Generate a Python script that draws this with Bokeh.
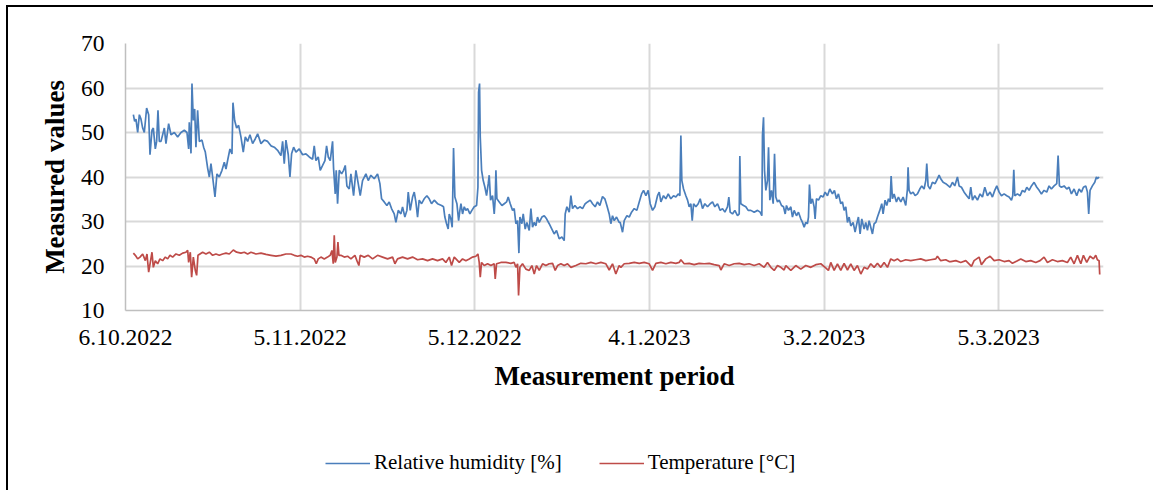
from datetime import date
from bokeh.plotting import figure
from bokeh.layouts import column
from bokeh.models import FixedTicker, Legend, LegendItem, Range1d
from bokeh.embed import file_html
from bokeh.resources import INLINE

# ---------------- data ----------------
start_label = "6.10.2022"
end_label = "23.3.2023"
tick_labels = ["6.10.2022", "5.11.2022", "5.12.2022", "4.1.2023", "3.2.2023", "5.3.2023"]
y_ticks = [10, 20, 30, 40, 50, 60, 70]

# time of reading, in days after 6.10.2022
hum_day = [
    1.35, 1.57, 1.8, 2.09, 2.38, 2.66, 2.95, 3.23, 3.63, 3.98,
    4.21, 4.55, 4.78, 5.12, 5.35, 5.58, 5.81, 6.1, 6.67, 6.95,
    7.41, 7.81, 8.39, 8.96, 9.53, 10.1, 10.56, 10.85, 10.96, 11.25,
    11.42, 11.65, 11.88, 12.1, 12.39, 12.68, 13.14, 13.42, 13.71, 14.11,
    14.4, 14.68, 14.97, 15.37, 15.71, 16.11, 16.57, 16.97, 17.26, 17.54,
    17.94, 18.29, 18.46, 18.75, 19.09, 19.43, 19.83, 20.23, 20.58, 20.98,
    21.38, 21.84, 22.3, 22.7, 23.27, 23.84, 24.41, 24.99, 25.56, 26.13,
    26.7,
    26.99, 27.27, 27.56, 27.96, 28.25, 28.53, 28.88, 29.28, 29.85, 30.42,
    30.99, 31.57, 32.14, 32.42, 32.71, 33.11, 33.45, 33.86, 34.26, 34.54,
    34.83, 35.17, 35.57, 35.74, 36.03, 36.2, 36.43, 36.72, 37.12, 37.46,
    37.75, 38.03, 38.43, 38.72, 39.18, 39.58, 39.98, 40.32, 40.72, 41.3,
    41.7, 42.15, 42.73, 43.3, 43.7, 43.99, 44.44, 44.9, 45.3, 45.7,
    46.16, 46.45, 46.85, 47.31, 47.59, 47.99, 48.34, 48.57, 48.91, 49.31,
    49.6, 49.88, 50.17, 50.45, 50.86, 51.31, 51.77, 52.17, 52.57, 53.03,
    53.6, 54.29, 54.63, 54.86, 55.15, 55.43, 55.61, 55.89, 56.12, 56.35,
    56.58,
    56.93, 57.22, 57.44, 57.62, 57.9, 58.19, 58.47, 58.76, 59.16, 59.5,
    59.9, 60.31, 60.54, 60.65, 60.82, 60.94, 61.17, 61.45, 61.74, 62.02,
    62.31, 62.48, 62.71, 63.05, 63.34, 63.51, 63.63, 63.8, 64.2, 64.66,
    65.06, 65.46, 65.74, 66.09, 66.49, 66.77, 67.06, 67.35, 67.58, 67.75,
    68.09, 68.32, 68.66, 68.95, 69.35, 69.64, 69.92, 70.21, 70.49, 70.78,
    71.07, 71.53, 71.93, 72.33, 72.78, 73.24, 73.64, 74.04, 74.5, 74.96,
    75.36, 75.53, 75.82, 76.22, 76.51, 76.79, 77.19, 77.65, 78.05, 78.51,
    78.97, 79.37, 79.83, 80.23, 80.68, 81.08, 81.48, 81.94, 82.34, 82.69,
    83.09, 83.37, 83.66, 83.95, 84.35, 84.8,
    84.98, 85.38, 85.67, 86.13, 86.53, 86.93, 87.39, 87.84, 88.25, 88.65,
    88.99, 89.39, 89.79, 90.13, 90.54, 90.94, 91.39, 91.68, 91.97, 92.42,
    92.82, 93.23, 93.68, 94.14, 94.54, 94.94, 95.23, 95.4, 95.57, 95.86,
    96.26, 96.55, 96.83, 97.12, 97.35, 97.58, 97.98, 98.38, 98.72, 99.12,
    99.52, 99.98, 100.44, 100.84, 101.24, 101.7, 102.15, 102.56, 102.96, 103.41,
    103.64, 103.87, 104.27, 104.67, 105.13, 105.42, 105.53, 105.7, 106.16, 106.56,
    106.96, 107.42, 107.99, 108.57, 109.02, 109.31, 109.42, 109.6, 109.77, 110.0,
    110.28, 110.46, 110.68, 110.97, 111.26, 111.49, 111.71, 112.0, 112.29, 112.69,
    113.03, 113.32,
    113.54, 113.88, 114.29, 114.57, 114.86, 115.26, 115.6, 116.0, 116.29, 116.58,
    116.86, 117.15, 117.32, 117.49, 117.72, 118.0, 118.29, 118.46, 118.69, 119.04,
    119.44, 119.84, 120.18, 120.58, 120.98, 121.44, 121.78, 122.13, 122.47, 122.87,
    123.16, 123.44, 123.73, 124.02, 124.3, 124.59, 124.99, 125.33, 125.62, 125.9,
    126.19, 126.48, 126.88, 127.16, 127.45, 127.74, 128.02, 128.31, 128.6, 128.88,
    129.17, 129.57, 129.91, 130.14, 130.48, 130.77, 131.06, 131.34, 131.52, 131.74,
    132.03, 132.43, 132.77, 133.18, 133.58, 134.03, 134.32, 134.43, 134.6, 134.89,
    135.29, 135.64, 136.04, 136.44, 136.78, 137.18, 137.47, 137.64, 137.87, 138.21,
    138.61, 139.07, 139.47, 139.76, 140.04, 140.45, 140.9, 141.36, 141.65,
    142.05, 142.45, 142.91, 143.2, 143.6, 144.06, 144.51, 144.92, 145.2, 145.49,
    145.89, 146.35, 146.8, 147.21, 147.61, 148.06, 148.52, 148.92, 149.32, 149.67,
    150.07, 150.47, 150.93, 151.38, 151.78, 152.19, 152.41, 152.59, 152.76, 153.22,
    153.67, 154.07, 154.47, 154.82, 155.22, 155.62, 156.08, 156.54, 156.94, 157.34,
    157.79, 158.25, 158.65, 159.05, 159.51, 159.97, 160.2, 160.43, 160.77, 161.23,
    161.69, 162.09, 162.49, 162.95, 163.4, 163.8, 164.21, 164.55, 164.95, 165.24,
    165.46, 165.69, 166.09, 166.5, 166.78, 166.95, 167.24,
]
hum_val = [
    54, 52.5, 53, 50, 54, 53, 51, 50, 55.5, 54,
    45, 50.5, 51, 46.3, 48, 55, 48, 48, 51, 47.5,
    52, 49.5, 50, 49, 50, 50.5, 50, 46.3, 52.3, 45.3,
    61, 52.7, 55.3, 46.7, 55, 48, 48.3, 46.7, 45.6, 42,
    40, 43, 40, 35.5, 40.7, 40, 41.5, 43.3, 41.8, 43.7,
    46.3, 45.2, 56.7, 52.7, 51, 51.6, 49, 45.6, 49, 48,
    49.5, 47.5, 48.6, 49.7, 47.5, 48.3, 48, 47, 46.7, 46,
    44.8,
    48, 43, 48.3, 45, 40, 45.2, 46.7, 45.6, 46.3, 45,
    45.2, 44.5, 44, 47, 43.7, 44.5, 41.5, 42.6, 43.7, 47,
    44.5, 43.7, 48, 42, 36.2, 41.5, 34, 41.5, 40.7, 41.5,
    42.6, 38, 37.3, 40.7, 35.8, 41.5, 38.5, 35.8, 39.2, 40.7,
    39.2, 40.4, 39.6, 40.7, 38.5, 35.1, 34.4, 33.6, 34.4, 32.9,
    31.7, 29.8, 32.5, 31.7, 33.3, 31, 32.5, 36.6, 32.5, 35.5,
    36.6, 34.4, 31, 34.8, 34, 35.1, 35.8, 35.1, 34, 34.8,
    34, 33.6, 33.3, 31, 29.5, 28.3, 31.7, 30.6, 28.7, 46.5,
    35.5,
    34, 30.2, 32.5, 34, 31.7, 33.3, 32.5, 32.9, 31.7, 32.5,
    33.3, 33.6, 37.7, 59, 61, 49, 41.5, 39.2, 37.7, 35.8,
    38.5, 40.4, 34.8, 35.8, 31.7, 35.1, 41.5, 35.1, 34.4, 33.6,
    34, 34.4, 35.5, 34, 32.5, 32.9, 29.5, 30.2, 22.9, 31,
    29.5, 31.7, 28.3, 29.8, 28, 32.9, 28.7, 29.8, 29, 31,
    29.8, 31, 31.3, 30.6, 29.5, 28.3, 27.2, 28, 26.1, 26.5,
    25.7, 31.7, 33.3, 32.1, 35.8, 32.9, 33.6, 32.9, 33.3, 32.9,
    34, 34.4, 34.8, 34, 33.3, 34.4, 33.6, 35.6, 35.1, 33.6,
    31.7, 29.5, 31.3, 30.2, 31, 29.8,
    29.8, 27.6, 30.2, 31.3, 31, 32.1, 32.9, 32.5, 34.4, 36.2,
    37, 35.8, 37, 34, 32.5, 33.3, 35.8, 36.6, 34.4, 35.8,
    35.1, 36.2, 35.1, 35.8, 35.5, 36.2, 35.8, 49.3, 39.2, 37.3,
    35.8, 34.8, 33.3, 34, 30.2, 34, 33.3, 34, 35.1, 32.9,
    34, 33.3, 34, 34.4, 33.3, 34, 32.5, 32.9, 32.1, 33.3,
    35.5, 32.1, 31.7, 32.5, 31.3, 31.7, 44.7, 34, 33.6, 33.3,
    32.5, 32.5, 32.1, 32.5, 32.1, 31.3, 49.3, 53.4, 41.5, 37,
    39.2, 46.7, 34.8, 37, 34, 45.2, 35.5, 34.4, 34.8, 33.6,
    33.3, 31.7,
    33.6, 32.5, 33.3, 31, 32.5, 31.3, 32.1, 30.6, 29.8, 28.7,
    29.8, 29.5, 31, 38.3, 34, 35.1, 33.3, 30.6, 35.1, 34.8,
    35.8, 35.5, 36.6, 35.8, 37.3, 36.2, 37, 35.1, 36.2, 34,
    34.4, 32.5, 33.3, 29.8, 31, 29, 29.8, 27.6, 29.5, 31,
    27.2, 30.6, 28.3, 29.8, 28, 30.2, 28.7, 27.2, 29.5, 29.8,
    31, 32.5, 34, 31.7, 34.8, 33.6, 35.1, 34.4, 40.2, 35.1,
    36.2, 34.4, 35.5, 34.4, 35.5, 33.6, 37.3, 42.2, 37, 36.2,
    36.6, 35.8, 36.2, 37.3, 38, 37.3, 39.2, 43, 38, 37.3,
    38.8, 38.5, 39.6, 40.4, 39.6, 38.8, 38.5, 38, 37.7,
    38.8, 38, 40, 38, 37.7, 36.6, 35.8, 35.1, 37.7, 34.8,
    35.8, 34.8, 36.2, 35.5, 37.7, 35.8, 36.6, 35.5, 37, 38,
    36.6, 35.8, 36.2, 35.8, 35.5, 34.8, 35.8, 41.6, 35.8, 36.2,
    35.8, 37, 36.6, 37.7, 37, 38, 38.8, 37.7, 37, 36.2,
    37, 36.6, 38, 37.3, 38, 38.5, 44.8, 38, 37.7, 38,
    37.3, 37.7, 36.2, 37.3, 35.8, 37.3, 36.6, 37.7, 38, 36.6,
    31.7, 37, 38, 38.8, 40, 39.6, 40,
]

temp_day = [
    1.35, 1.69, 2.09, 2.49, 2.95, 3.41, 3.69, 3.98, 4.26, 4.55,
    4.78, 5.12, 5.52, 5.92, 6.38, 6.84, 7.24, 7.64, 8.1, 8.67,
    9.24, 9.82, 10.39, 10.68, 10.85, 11.13, 11.36, 11.65, 11.99, 12.22,
    12.45, 12.79, 13.25, 13.82, 14.4, 14.97, 15.54, 16.11, 16.69, 17.26,
    17.83, 18.52, 19.09, 19.83, 20.41, 20.98, 21.55, 22.41, 23.27, 24.13,
    24.99, 25.85, 26.7, 27.56,
    28.42, 28.99, 29.56, 30.13, 30.71, 31.28, 31.85, 32.42, 32.77, 33.11,
    33.57, 34.14, 34.71, 35.17, 35.46, 35.69, 35.86, 36.03, 36.32, 36.49,
    36.66, 37.0, 37.58, 38.15, 38.72, 39.41, 39.75, 40.09, 40.32, 41.01,
    41.7, 42.44, 43.3, 44.16, 45.02, 45.88, 46.28, 46.73, 47.59, 48.45,
    49.31, 50.17, 51.03, 51.89, 52.74, 53.6, 54.46, 55.03, 55.61, 56.01,
    56.47,
    56.76, 57.33, 57.9, 58.47, 59.05, 59.62, 60.19, 60.54, 60.76, 60.94,
    61.16, 61.62, 62.2, 62.77, 63.34, 63.51, 63.74, 64.48, 65.34, 66.2,
    66.77, 67.06, 67.35, 67.52, 67.75, 68.2, 68.78, 69.35, 69.81, 70.21,
    70.61, 71.07, 71.64, 72.21, 72.78, 73.36, 73.81, 74.22, 74.79, 75.36,
    75.93, 76.51, 77.36, 78.22, 79.08, 79.94, 80.8, 81.66, 82.52, 83.09,
    83.66, 84.23, 84.8,
    85.1, 85.67, 86.53, 87.39, 88.25, 89.1, 89.96, 90.54, 91.11, 91.97,
    92.82, 93.68, 94.54, 95.11, 95.4, 95.97, 96.83, 97.69, 98.55, 99.41,
    100.27, 101.12, 101.98, 102.27, 102.84, 103.7, 104.56, 105.42, 106.28, 107.13,
    107.99, 108.85, 109.71, 110.28, 110.86, 111.43, 112.0, 112.57, 113.14,
    113.43, 114.29, 115.14, 116.0, 116.86, 117.72, 118.58, 119.44, 120.18, 120.75,
    121.15, 121.73, 122.3, 122.87, 123.44, 124.02, 124.59, 125.16, 125.73, 126.31,
    126.88, 127.45, 128.02, 128.6, 129.17, 129.74, 130.31, 130.89, 131.46, 132.03,
    132.6, 133.18, 134.03, 134.89, 135.75, 136.61, 137.47, 138.33, 139.19, 139.47,
    140.04, 140.9, 141.48,
    141.77, 142.63, 143.48, 144.34, 145.32, 145.77, 146.63, 147.03, 147.78, 148.52,
    149.21, 150.07, 150.93, 151.78, 152.36, 153.22, 153.79, 154.65, 155.5, 156.36,
    157.11, 157.79, 158.37, 159.23, 160.08, 160.94, 161.8, 162.37, 162.95, 163.52,
    164.1, 164.55, 165.12, 165.69, 166.27, 166.67, 166.95, 167.24, 167.35,
]
temp_val = [
    22.9, 22.4, 21.6, 22, 22.7, 21.2, 22.7, 18.6, 20.8, 23.1,
    19.7, 21.2, 20.5, 21.6, 21.2, 22, 21.6, 22.4, 22, 22.7,
    22.4, 22.9, 23.1, 23.5, 20.8, 23.1, 17.5, 22, 19, 17.9,
    22.4, 22.7, 23.1, 22.7, 23.1, 22.4, 22.7, 22.4, 22.7, 22.9,
    22.7, 23.6, 23.1, 22.9, 23.1, 22.7, 23.1, 22.7, 22.9, 22.6,
    22.4, 22.2, 22.4, 22.7,
    22.7, 22.4, 22.2, 22.4, 22, 22.2, 22, 21.6, 20.5, 21.6,
    22, 21.6, 22, 22.4, 23.5, 20.5, 26.9, 20.8, 22, 25.4,
    22.4, 22.4, 22, 22.2, 21.6, 22.4, 21.2, 20.1, 22.4, 22,
    22.4, 21.6, 22.4, 22, 21.6, 22, 20.5, 21.6, 22, 21.6,
    22, 21.4, 21.6, 21.2, 21.6, 21.2, 21.6, 20.8, 22, 20.1,
    22,
    21.6, 20.8, 21.6, 21.2, 21.6, 22, 22.2, 22.7, 20.8, 17.5,
    20.8, 20.1, 20.5, 20.1, 20.5, 17.1, 20.5, 20.8, 20.8, 20.6,
    20.8, 19.7, 20.5, 13.4, 19.7, 20.5, 19.3, 19, 20.1, 18.2,
    20.1, 19, 20.5, 20.1, 20.5, 20.6, 19, 20.1, 20.5, 20.1,
    20.5, 19.7, 20.1, 20.6, 20.5, 20.8, 20.5, 20.8, 20.5, 19.1,
    20.5, 18.2, 20.1,
    19.7, 20.5, 20.6, 20.8, 20.6, 20.8, 20.5, 19, 20.6, 20.8,
    20.5, 20.8, 20.6, 20.8, 21.4, 20.5, 20.6, 20.3, 20.6, 20.5,
    20.6, 20.3, 20.1, 19.1, 20.5, 20.1, 20.5, 20.6, 20.3, 20.5,
    20.1, 20.5, 19.7, 20.8, 19.7, 19, 20.1, 19.7, 19.1,
    20.1, 19, 20.1, 19.3, 20.1, 19.7, 20.3, 20.5, 19.7, 19,
    20.8, 19, 20.5, 19, 20.6, 19.1, 20.5, 19, 20.1, 18.2,
    19.7, 19.3, 20.5, 19.7, 20.6, 19.7, 20.8, 19.7, 21.6, 21.2,
    21.6, 21, 21.4, 21.2, 21.4, 21.6, 21.2, 21.4, 21.6, 22.2,
    21.2, 21.4, 21,
    21, 21.2, 20.8, 21.2, 19.9, 21.2, 22, 20.3, 21.6, 22.2,
    21.2, 21.4, 21, 21.2, 20.6, 21.2, 21.6, 21, 21.2, 20.8,
    21.2, 22, 20.8, 21.4, 21, 21.2, 20.8, 22, 20.5, 22.4,
    20.5, 22.4, 20.8, 22.2, 21.6, 22.4, 21.4, 21.2, 18.1,
]

series_names = ["Relative humidity [%]", "Temperature [°C]"]
series_colors = ["#4A7EBB", "#BE4B48"]


def parse(lbl):
    d, m, y = (int(s) for s in lbl.split("."))
    return date(y, m, d)


d0 = parse(start_label)
tick_pos = [(parse(t) - d0).days for t in tick_labels]
x_end = (parse(end_label) - d0).days

n_h = min(len(hum_day), len(hum_val))
n_t = min(len(temp_day), len(temp_val))

SERIF = "Liberation Serif"
LW = 1.7
FIG_W = 117 + 978 + 50

# ---------------- main chart ----------------
p = figure(
    frame_width=978, frame_height=267,
    min_border_left=117, min_border_right=50, min_border_top=36, min_border_bottom=100,
    x_range=Range1d(0, x_end), y_range=Range1d(y_ticks[0], y_ticks[-1]),
    output_backend="svg", toolbar_location=None,
)
p.outline_line_color = None
p.background_fill_color = "white"
p.border_fill_color = "white"

p.line(hum_day[:n_h], hum_val[:n_h], line_color=series_colors[0], line_width=LW)
p.line(temp_day[:n_t], temp_val[:n_t], line_color=series_colors[1], line_width=LW)

p.xaxis.ticker = FixedTicker(ticks=tick_pos)
p.xaxis.major_label_overrides = {tp: lbl for tp, lbl in zip(tick_pos, tick_labels)}
p.yaxis.ticker = FixedTicker(ticks=y_ticks)
for ax in (p.xaxis[0], p.yaxis[0]):
    ax.axis_line_color = "#BFBFBF"
    ax.axis_line_width = 1.5
    ax.major_tick_line_color = None
    ax.minor_tick_line_color = None
    ax.major_tick_out = 0
    ax.major_tick_in = 0
    ax.major_label_text_font = SERIF
    ax.major_label_text_font_size = "23.5px"
    ax.major_label_text_color = "#000000"
    ax.axis_label_text_font = SERIF
    ax.axis_label_text_font_size = "27px"
    ax.axis_label_text_font_style = "bold"
    ax.axis_label_text_color = "#000000"

p.xaxis.axis_label = "Measurement period"
p.yaxis.axis_label = "Measured values"
p.yaxis.major_label_standoff = 21
p.yaxis.axis_label_standoff = 8
p.xaxis.major_label_standoff = 19
p.xaxis.axis_label_standoff = 13

p.xgrid.grid_line_color = "#D9D9D9"
p.xgrid.grid_line_width = 2
p.ygrid.grid_line_color = "#D9D9D9"
p.ygrid.grid_line_width = 2

# ---------------- legend strip ----------------
# (same series drawn again, but far outside this strip's view, only to feed the legend)
pl = figure(
    width=FIG_W, height=80, min_border=0,
    x_axis_location=None, y_axis_location=None,
    x_range=Range1d(-2, -1), y_range=Range1d(-2, -1),
    output_backend="svg", toolbar_location=None,
)
pl.outline_line_color = None
pl.grid.visible = False
pl.background_fill_color = "white"
pl.border_fill_color = "white"
lr_h = pl.line(hum_day[:n_h], hum_val[:n_h], line_color=series_colors[0], line_width=LW)
lr_t = pl.line(temp_day[:n_t], temp_val[:n_t], line_color=series_colors[1], line_width=LW)

legend = Legend(
    items=[LegendItem(label=series_names[0], renderers=[lr_h]),
           LegendItem(label=series_names[1], renderers=[lr_t])],
    orientation="horizontal",
    location=(200, 15),
    glyph_width=45, glyph_height=20,
    label_standoff=4, spacing=37,
    padding=0, margin=0,
    border_line_color=None, background_fill_alpha=0,
    label_text_font=SERIF, label_text_font_size="21px", label_text_color="#000000",
)
pl.add_layout(legend, "center")

layout = column(p, pl, spacing=0)
layout.styles = {"margin-left": "6px", "margin-top": "5px",
                 "border-left": "2px solid #000", "border-top": "2px solid #000"}

open("out.html", "w").write(file_html(layout, INLINE))
